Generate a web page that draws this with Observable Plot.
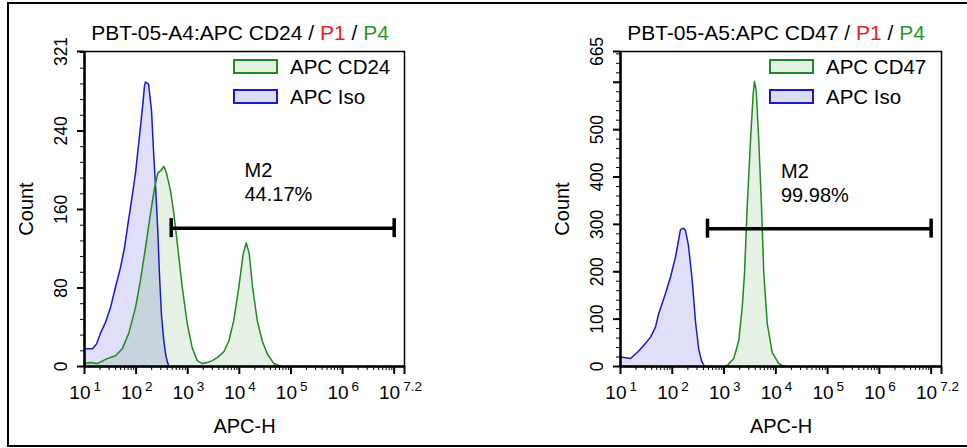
<!DOCTYPE html>
<html>
<head>
<meta charset="utf-8">
<script src="https://cdn.jsdelivr.net/npm/d3@7"></script>
<script src="https://cdn.jsdelivr.net/npm/@observablehq/plot@0.6"></script>
<style>
  html, body { margin: 0; padding: 0; background: #fff; }
  body { font-family: "Liberation Sans", Arial, sans-serif; color: #000; }
  #page { position: relative; width: 967px; height: 448px; overflow: hidden; background: #fff; }
  #border { position: absolute; left: 7px; top: 2px; width: 990px; height: 445px; border: 2px solid #000; box-sizing: border-box; }
  .panel { position: absolute; top: 0; }
  .panel svg { display: block; overflow: visible; }
  .title { position: absolute; top: 22px; font-size: 21px; line-height: 1; white-space: nowrap; transform: translateX(-50%); }
  .lg-box { position: absolute; width: 45px; height: 15px; box-sizing: border-box; border: 2px solid; }
  .lg-text { position: absolute; font-size: 20.5px; line-height: 20px; white-space: nowrap; }
</style>
</head>
<body>
<div id="page">
  <div id="left" class="panel" style="left:0px"></div>
  <div id="right" class="panel" style="left:480px"></div>
  <div id="border"></div>
</div>
<script>
// ---------- data (x positions as log10 of APC-H, y = Count) ----------
const titlesMain = ["PBT-05-A4:APC CD24", "PBT-05-A5:APC CD47"];
const gateNames = ["P1", "P4"];
const legendLabels = [["APC CD24", "APC Iso"], ["APC CD47", "APC Iso"]];
const markerName = "M2";
const markerPct = ["44.17%", "99.98%"];
const markerRange = [10 ** 2.68, 10 ** 7];   // M2 gate on APC-H
const markerLevel = [141, 291];               // count at which the gate bar is drawn

const xDecades = [1, 2, 3, 4, 5, 6, 7];
const xExpLabels = ["1", "2", "3", "4", "5", "6", "7.2"];
const xMaxExp = 7.2;

const leftYTicks = [0, 80, 160, 240, 321];
const leftYLabels = [0, 80, 160, 240, 321];
const rightYTicks = [0, 100, 200, 300, 400, 500, 600, 665];
const rightYLabels = [0, 100, 200, 300, 400, 500, 665];
const leftYMinorStep = 16;
const rightYMinorStep = 20;

// Left panel: APC Iso (blue) and APC CD24 (green)
const leftIsoLog = [1.000,1.155,1.233,1.310,1.407,1.504,1.601,1.698,1.775,1.833,1.911,1.988,2.066,2.124,2.163,2.182,2.202,2.240,2.298,2.337,2.376,2.415,2.453,2.492,2.531,2.570,2.609,2.638];
const leftIsoCount = [18,18,23,34,45,60,81,101,121,142,169,197,235,264,286,290,289,288,261,220,184,144,93,52,29,13,4,0];
const leftCd24Log = [1.000,1.116,1.246,1.440,1.601,1.731,1.859,1.988,2.085,2.182,2.279,2.357,2.420,2.486,2.537,2.589,2.667,2.731,2.808,2.893,2.990,3.087,3.184,3.281,3.378,3.475,3.572,3.700,3.797,3.893,3.990,4.076,4.134,4.192,4.256,4.347,4.444,4.541,4.669,4.766,4.820];
const leftCd24Count = [3,4,3,8,11,18,34,60,88,121,156,182,197,200,204,197,179,156,121,81,44,19,6,3,4,6,9,15,26,47,81,115,126,115,81,47,26,13,3,1,0];

// Right panel: APC Iso (blue) and APC CD47 (green)
const rightIsoLog = [1.000,1.193,1.328,1.444,1.580,1.676,1.734,1.869,1.966,2.062,2.159,2.217,2.256,2.313,2.385,2.449,2.512,2.565,2.623];
const rightIsoCount = [20,17,30,44,62,83,110,154,189,231,289,292,287,255,182,94,36,12,0];
const rightCd47Log = [3.000,3.061,3.188,3.285,3.351,3.395,3.447,3.511,3.563,3.588,3.621,3.671,3.724,3.768,3.834,3.930,4.058,4.154];
const rightCd47Count = [0,2,17,55,125,196,336,477,576,602,583,477,336,196,91,30,6,0];

// ---------- styles ----------
const BLUE = "#1a1acc";
const GREEN = "#1f8a1f";
const BLUE_FILL = "#dcdcf5";
const GREEN_FILL = "#e3f1e3";
const FONT = "'Liberation Sans', Arial, sans-serif";

const rows = (logs, counts) => logs.map((l, i) => ({x: 10 ** l, y: counts[i]}));

const xMax = 10 ** xMaxExp;
const xMajor = xDecades.map(d => 10 ** d).concat([xMax]);
const xMinor = [];
for (let k = 1; k <= 7; k++) for (let m = 2; m <= 9; m++) { const v = m * 10 ** k; if (v < xMax) xMinor.push(v); }

function panel({width, marginLeft, marginRight, yMax, yTicks, yLabels, yMinorStep, iso, pos, idx}) {
  const level = markerLevel[idx];
  const cap = yMax * 9.5 / 315;
  const yMinor = d3.range(0, yMax, yMinorStep);
  const noText = () => "";
  return Plot.plot({
    width, height: 448,
    marginLeft, marginRight, marginTop: 51, marginBottom: 82,
    style: {fontFamily: FONT, background: "transparent", color: "#000", overflow: "visible"},
    x: {type: "log", domain: [10, xMax]},
    y: {domain: [0, yMax]},
    marks: [
      Plot.areaY(iso, {x: "x", y: "y", fill: BLUE, fillOpacity: 0.14}),
      Plot.areaY(pos, {x: "x", y: "y", fill: GREEN, fillOpacity: 0.12}),
      Plot.lineY(iso, {x: "x", y: "y", stroke: BLUE, strokeWidth: 1.5}),
      Plot.lineY(pos, {x: "x", y: "y", stroke: GREEN, strokeWidth: 1.5}),
      Plot.ruleY([level], {x1: markerRange[0], x2: markerRange[1], stroke: "#000", strokeWidth: 3.5}),
      Plot.ruleX(markerRange, {x: d => d, y1: level - cap, y2: level + cap, stroke: "#000", strokeWidth: 3.5}),
      Plot.text([markerName + "\n" + markerPct[idx]], {x: 10 ** 4.1, y: level, dy: -68, text: d => d, textAnchor: "start", lineAnchor: "top", lineHeight: 1.2, fontSize: 20}),
      Plot.frame({stroke: "#000", strokeWidth: 1.5}),
      Plot.ruleX([10], {stroke: "#000", strokeWidth: 2.5}),
      Plot.ruleY([0], {stroke: "#000", strokeWidth: 2.5}),
      Plot.axisX({ticks: xMajor, tickSize: 8, strokeWidth: 2, tickFormat: noText, label: null}),
      Plot.axisX({ticks: xMinor, tickSize: 4, strokeWidth: 1, tickFormat: noText, label: null}),
      Plot.axisY({ticks: yTicks, tickSize: 7, strokeWidth: 2, tickFormat: noText, label: null}),
      Plot.axisY({ticks: yMinor, tickSize: 4, strokeWidth: 1, tickFormat: noText, label: null}),
      Plot.text(xDecades, {x: d => 10 ** d, text: () => "10", frameAnchor: "bottom", dy: 32, dx: 6, textAnchor: "end", lineAnchor: "bottom", fontSize: 19}),
      Plot.text(xDecades, {x: d => 10 ** d, text: (d, i) => xExpLabels[i], frameAnchor: "bottom", dy: 24, dx: 9, textAnchor: "start", lineAnchor: "bottom", fontSize: 13.5}),
      Plot.text(yLabels, {y: d => d, text: d => String(d), frameAnchor: "left", dx: -23, rotate: -90, textAnchor: "middle", fontSize: 17.5}),
      Plot.text(["Count"], {text: d => d, frameAnchor: "left", dx: -58, rotate: -90, textAnchor: "middle", fontSize: 20}),
      Plot.text(["APC-H"], {text: d => d, frameAnchor: "bottom", dy: 66, lineAnchor: "bottom", textAnchor: "middle", fontSize: 20})
    ]
  });
}

document.getElementById("left").appendChild(panel({
  width: 480, marginLeft: 84, marginRight: 76, yMax: 321, yTicks: leftYTicks, yLabels: leftYLabels, yMinorStep: leftYMinorStep,
  iso: rows(leftIsoLog, leftIsoCount), pos: rows(leftCd24Log, leftCd24Count), idx: 0
}));
document.getElementById("right").appendChild(panel({
  width: 487, marginLeft: 140, marginRight: 26, yMax: 665, yTicks: rightYTicks, yLabels: rightYLabels, yMinorStep: rightYMinorStep,
  iso: rows(rightIsoLog, rightIsoCount), pos: rows(rightCd47Log, rightCd47Count), idx: 1
}));

// ---------- titles & legends (HTML overlays) ----------
const page = document.getElementById("page");
const titleCenters = [240, 776];
const legendBoxX = [233, 769];
const legendTextX = [290, 826];
titlesMain.forEach((t, i) => {
  const div = document.createElement("div");
  div.className = "title";
  div.style.left = titleCenters[i] + "px";
  div.innerHTML = `${t} / <span style="color:#e8201c">${gateNames[0]}</span> / <span style="color:#1f9a1f">${gateNames[1]}</span>`;
  page.appendChild(div);
  const colors = [[GREEN, GREEN_FILL], [BLUE, BLUE_FILL]];
  legendLabels[i].forEach((lab, j) => {
    const box = document.createElement("div");
    box.className = "lg-box";
    box.style.left = legendBoxX[i] + "px";
    box.style.top = (59 + 30 * j) + "px";
    box.style.borderColor = colors[j][0];
    box.style.background = colors[j][1];
    page.appendChild(box);
    const tx = document.createElement("div");
    tx.className = "lg-text";
    tx.style.left = legendTextX[i] + "px";
    tx.style.top = (57 + 30 * j) + "px";
    tx.textContent = lab;
    page.appendChild(tx);
  });
});
</script>
</body>
</html>
